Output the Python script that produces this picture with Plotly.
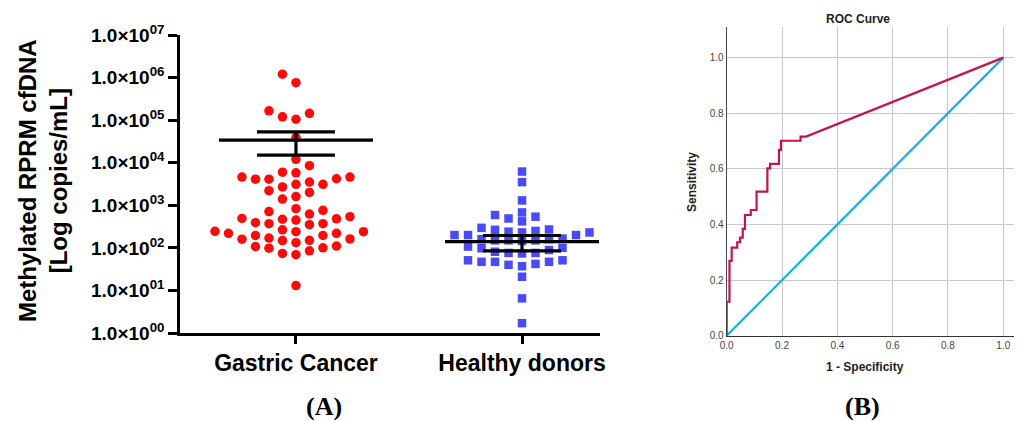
import numpy as np
import plotly.graph_objects as go

# The page body has an 8px default margin, so the figure is drawn 8px in from the
# window corner; size it so that it fills the 1022x421 window exactly.
PAGE_W, PAGE_H, OFF = 1022, 421, 8
W, H = PAGE_W - OFF, PAGE_H - OFF

# ---------------- Data ----------------
categories = ["Gastric Cancer", "Healthy donors"]

gastric_cancer = [1.2e6, 7.6e5, 1.66e5, 1.2e5, 1.05e5, 1.45e5, 3.9e4, 1.2e4, 8.5e3,
                  5.8e3, 4.6e3, 4.1e3, 3.5e3, 4.1e3, 4.2e3, 4.6e3, 6.0e3, 3.1e3, 2.7e3,
                  2.0e3, 1.6e3, 2.2e3, 3.1e3, 1.4e3, 830, 710, 760, 620, 490, 470, 390,
                  370, 350, 370, 450, 480, 540, 240, 220, 195, 170, 160, 265, 245, 150,
                  148, 162, 195, 220, 240, 132, 107, 98, 74, 69, 85, 100, 110, 13]

healthy_donors = [6200, 3500, 1300, 590, 490, 540, 680, 420, 200, 270, 250, 230, 240,
                  230, 265, 295, 200, 200, 165, 160, 150, 145, 150, 160, 150, 100, 81,
                  76, 107, 89, 74, 76, 98, 47, 47, 40, 51, 47, 37, 51, 42, 21, 6.5, 1.7]

group_mean = [34000, 140]
group_sem = [19000, 55]

y_tick_exponents = [0, 1, 2, 3, 4, 5, 6, 7]

roc_fpr = [0, 0, 0.010, 0.010, 0.018, 0.018, 0.038, 0.038, 0.048, 0.048, 0.058, 0.058,
           0.066, 0.066, 0.087, 0.087, 0.108, 0.108, 0.147, 0.147, 0.157, 0.157,
           0.189, 0.189, 0.196, 0.196, 0.267, 0.267, 0.287, 1.0]
roc_tpr = [0, 0.122, 0.122, 0.269, 0.269, 0.317, 0.317, 0.336, 0.336, 0.353, 0.353,
           0.384, 0.384, 0.434, 0.434, 0.452, 0.452, 0.518, 0.518, 0.602, 0.602,
           0.618, 0.618, 0.668, 0.668, 0.701, 0.701, 0.716, 0.716, 1.0]
ref_x = [0, 1]
ref_y = [0, 1]
roc_ticks = [0.0, 0.2, 0.4, 0.6, 0.8, 1.0]


def px(xp):
    return (xp - OFF) / W


def py(yp):
    return 1 - (yp - OFF) / H


# ---------------- Layout geometry (window pixels) ----------------
L_X0, L_X1 = 180, 600
L_Y0, L_Y1 = 35, 333
L_XRANGE = [-0.513, 1.345]
R_X0, R_X1 = 726.7, 1022
R_Y0, R_Y1 = 27.3, 335.7
R_XRANGE = [0, 1.0676]
R_YRANGE = [0, 1.109]

px_per_cat = (L_X1 - L_X0) / (L_XRANGE[1] - L_XRANGE[0])
px_per_dec = (L_Y1 - L_Y0) / 7.0


def swarm_offsets(vals, spacing_px=13.5, min_dy=10.0):
    """Deterministic grid beeswarm: returns x offsets in category units."""
    ys = np.log10(np.asarray(vals, dtype=float)) * px_per_dec
    order = np.argsort(ys)
    cols = {}
    offs = np.zeros(len(vals))
    cand = [0] + [s * j for j in range(1, 60) for s in (-1, 1)]
    for i in order:
        for c in cand:
            if all(abs(ys[i] - yy) >= min_dy for yy in cols.get(c, [])):
                cols.setdefault(c, []).append(ys[i])
                offs[i] = c
                break
    return offs * spacing_px / px_per_cat


fig = go.Figure()

groups = [gastric_cancer, healthy_donors]
styles = [dict(color="#FF0A0A", symbol="circle", size=9.5),
          dict(color="#4A4AF8", symbol="square", size=8.5)]
gaps = [10.0, 8.5]
for gi, (vals, st, gp) in enumerate(zip(groups, styles, gaps)):
    xs = gi + swarm_offsets(vals, min_dy=gp)
    fig.add_trace(go.Scatter(x=xs, y=vals, mode="markers", marker=dict(line=dict(width=0), **st),
                             xaxis="x", yaxis="y", hoverinfo="skip"))

mean_half = 77 / px_per_cat
cap_half = 39 / px_per_cat
for gi, (m, s) in enumerate(zip(group_mean, group_sem)):
    lo, hi = m - s, m + s
    xs = [gi - mean_half, gi + mean_half, None,
          gi - cap_half, gi + cap_half, None,
          gi - cap_half, gi + cap_half, None,
          gi, gi]
    ys = [m, m, None, hi, hi, None, lo, lo, None, lo, hi]
    fig.add_trace(go.Scatter(x=xs, y=ys, mode="lines", line=dict(color="black", width=3.2),
                             xaxis="x", yaxis="y", hoverinfo="skip"))

# ROC
fig.add_trace(go.Scatter(x=ref_x, y=ref_y, mode="lines", line=dict(color="#17AEEE", width=2.2),
                         xaxis="x2", yaxis="y2", hoverinfo="skip"))
fig.add_trace(go.Scatter(x=roc_fpr, y=roc_tpr, mode="lines", line=dict(color="#C4134F", width=2.2),
                         xaxis="x2", yaxis="y2", hoverinfo="skip"))

sans = "Liberation Sans, Arial, sans-serif"
ytickvals = [10 ** e for e in y_tick_exponents]
yticktext = ["1.0×10<sup>%02d</sup>" % e for e in y_tick_exponents]

fig.update_layout(
    template="none",
    width=W, height=H, margin=dict(l=0, r=0, t=0, b=0, pad=0),
    paper_bgcolor="white", plot_bgcolor="white", showlegend=False,
    xaxis=dict(domain=[px(L_X0), px(L_X1)], range=L_XRANGE, anchor="y", automargin=False,
               tickvals=[0, 1], ticktext=categories, ticks="outside", ticklen=8,
               tickwidth=2.5, tickcolor="black", showline=True, linecolor="black",
               linewidth=2.5, showgrid=False, zeroline=False,
               tickfont=dict(family=sans, size=23, color="black", weight="bold")),
    yaxis=dict(domain=[py(L_Y1), py(L_Y0)], type="log", range=[0, 7], anchor="x",
               automargin=False,
               tickvals=ytickvals, ticktext=yticktext, ticks="outside", ticklen=9,
               tickwidth=2.5, tickcolor="black", showline=True, linecolor="black",
               linewidth=2.5, showgrid=False, zeroline=False,
               tickfont=dict(family=sans, size=19, color="black", weight="bold")),
    xaxis2=dict(domain=[px(R_X0), min(1.0, px(R_X1))], range=R_XRANGE, anchor="y2",
                automargin=False,
                tickvals=roc_ticks, tickformat=".1f", ticks="", showline=True,
                linecolor="#333333", linewidth=1.2, showgrid=True, gridcolor="#C8C8C8",
                gridwidth=1, zeroline=False,
                tickfont=dict(family=sans, size=10, color="#444444")),
    yaxis2=dict(domain=[py(R_Y1), py(R_Y0)], range=R_YRANGE, anchor="x2",
                automargin=False,
                tickvals=roc_ticks, tickformat=".1f", ticks="", showline=True,
                linecolor="#444444", linewidth=1.2, showgrid=True, gridcolor="#C8C8C8",
                gridwidth=1, zeroline=False,
                tickfont=dict(family=sans, size=10, color="#444444")),
)

ann = [
    dict(text="Methylated RPRM cfDNA<br>[Log copies/mL]", x=px(43), y=py(181),
         textangle=-90, font=dict(family=sans, size=24, color="black", weight="bold")),
    dict(text="(A)", x=px(324), y=py(406),
         font=dict(family="Liberation Serif, Times New Roman, serif", size=26, color="black",
                   weight="bold")),
    dict(text="(B)", x=px(862), y=py(406),
         font=dict(family="Liberation Serif, Times New Roman, serif", size=26, color="black",
                   weight="bold")),
    dict(text="ROC Curve", x=px(858), y=py(19),
         font=dict(family=sans, size=12, color="#222222", weight="bold")),
    dict(text="1 - Specificity", x=px(865), y=py(367),
         font=dict(family=sans, size=12, color="#222222", weight="bold")),
    dict(text="Sensitivity", x=px(692), y=py(182), textangle=-90,
         font=dict(family=sans, size=12, color="#222222", weight="bold")),
]
for a in ann:
    fig.add_annotation(xref="paper", yref="paper", showarrow=False, xanchor="center",
                       yanchor="middle", **a)

fig.write_html("out.html")
